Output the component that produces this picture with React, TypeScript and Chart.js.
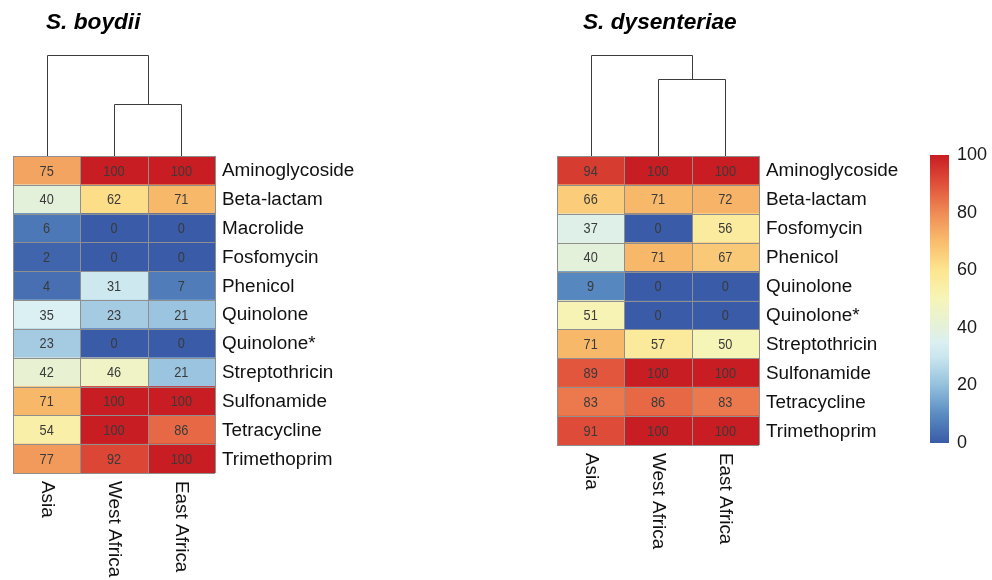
import { useEffect, useRef } from "react";
import { Chart, registerables } from "chart.js";

Chart.register(...registerables);

// ---------- data ----------
const regions = ["Asia", "West Africa", "East Africa"];

const boydiiClasses = [
  "Aminoglycoside", "Beta-lactam", "Macrolide", "Fosfomycin", "Phenicol", "Quinolone",
  "Quinolone*", "Streptothricin", "Sulfonamide", "Tetracycline", "Trimethoprim",
];
const boydiiAsia = [75, 40, 6, 2, 4, 35, 23, 42, 71, 54, 77];
const boydiiWestAfrica = [100, 62, 0, 0, 31, 23, 0, 46, 100, 100, 92];
const boydiiEastAfrica = [100, 71, 0, 0, 7, 21, 0, 21, 100, 86, 100];
// dendrogram merge heights (relative): [root, West+East]
const boydiiMerges = [1, 0.515];

const dysClasses = [
  "Aminoglycoside", "Beta-lactam", "Fosfomycin", "Phenicol", "Quinolone", "Quinolone*",
  "Streptothricin", "Sulfonamide", "Tetracycline", "Trimethoprim",
];
const dysAsia = [94, 66, 37, 40, 9, 51, 71, 89, 83, 91];
const dysWestAfrica = [100, 71, 0, 71, 0, 0, 57, 100, 86, 100];
const dysEastAfrica = [100, 72, 56, 67, 0, 0, 50, 100, 83, 100];
const dysMerges = [1, 0.762];

const legendTicks = [0, 20, 40, 60, 80, 100];

// ---------- styles ----------
const FONT = '"Liberation Sans", Arial, Helvetica, sans-serif';
const colorStops: [number, string][] = [
  [0, "#3A5BA7"], [10, "#5A8CC2"], [20, "#94C0DD"], [30, "#CBE6EF"], [35, "#DAF0F2"],
  [40, "#E4F1DA"], [50, "#F6F5B8"], [60, "#FDE58F"], [70, "#F9BD6C"], [80, "#EF8B55"],
  [90, "#E0503A"], [100, "#C81D22"],
];
const DENDRO_H = 101;

function hexToRgb(h: string) {
  return [parseInt(h.slice(1, 3), 16), parseInt(h.slice(3, 5), 16), parseInt(h.slice(5, 7), 16)];
}
function colorFor(v: number) {
  for (let i = 0; i < colorStops.length - 1; i++) {
    const [v0, c0] = colorStops[i];
    const [v1, c1] = colorStops[i + 1];
    if (v <= v1) {
      const t = (v - v0) / (v1 - v0);
      const a = hexToRgb(c0), b = hexToRgb(c1);
      const m = a.map((x, k) => Math.round(x + (b[k] - x) * t));
      return `rgb(${m[0]},${m[1]},${m[2]})`;
    }
  }
  return colorStops[colorStops.length - 1][1];
}

function heatmapConfig(title: string, titleOffset: number, classes: string[], cols: number[][], merges: number[], padding: any) {
  const datasets = cols.map((vals, i) => ({
    label: regions[i],
    data: classes.map(() => [i, i + 1]),
    values: vals,
    backgroundColor: vals.map(colorFor),
    borderWidth: 0,
    barPercentage: 1,
    categoryPercentage: 1,
    grouped: false,
  }));

  const plugin = {
    id: "heatmapDecor",
    afterDatasetsDraw(chart: any) {
      const ctx = chart.ctx;
      const xs = chart.scales.x;
      const ys = chart.scales.y;
      const area = chart.chartArea;
      ctx.save();
      // grid
      ctx.strokeStyle = "#8f8f8f";
      ctx.lineWidth = 1;
      ctx.beginPath();
      for (let k = 0; k <= regions.length; k++) {
        const x = Math.round(xs.getPixelForValue(k)) + 0.5;
        ctx.moveTo(x, area.top);
        ctx.lineTo(x, area.bottom);
      }
      for (let k = 0; k <= classes.length; k++) {
        const y = Math.round(ys.getPixelForValue(k - 0.5)) + 0.5;
        ctx.moveTo(area.left, y);
        ctx.lineTo(area.right, y);
      }
      ctx.stroke();
      // numbers
      ctx.fillStyle = "#3a3a3a";
      ctx.font = `15px ${FONT}`;
      ctx.textAlign = "center";
      ctx.textBaseline = "middle";
      chart.data.datasets.forEach((ds: any, i: number) => {
        ds.values.forEach((v: number, j: number) => {
          ctx.save();
          ctx.translate(xs.getPixelForValue(i + 0.5), ys.getPixelForValue(j) + 1);
          ctx.scale(0.85, 1);
          ctx.fillText(String(v), 0, 0);
          ctx.restore();
        });
      });
      ctx.restore();
    },
    afterDraw(chart: any) {
      const ctx = chart.ctx;
      const xs = chart.scales.x;
      const ys = chart.scales.y;
      const area = chart.chartArea;
      ctx.save();
      // row labels
      ctx.fillStyle = "#111";
      ctx.font = `18px ${FONT}`;
      ctx.textAlign = "left";
      ctx.textBaseline = "middle";
      classes.forEach((c, j) => {
        ctx.save();
        ctx.translate(area.right + 7, ys.getPixelForValue(j) + 1);
        ctx.scale(1.05, 1);
        ctx.fillText(c, 0, 0);
        ctx.restore();
      });
      // column labels (rotated clockwise)
      regions.forEach((r, i) => {
        ctx.save();
        ctx.translate(xs.getPixelForValue(i + 0.5), area.bottom + 8);
        ctx.rotate(Math.PI / 2);
        ctx.scale(1.05, 1);
        ctx.textAlign = "left";
        ctx.textBaseline = "middle";
        ctx.fillText(r, 0, 0);
        ctx.restore();
      });
      // dendrogram
      const cx = regions.map((_, i) => Math.round(xs.getPixelForValue(i + 0.5)) + 0.5);
      const hy = (h: number) => Math.round(area.top - h * DENDRO_H) + 0.5;
      const yRoot = hy(merges[0]);
      const ySub = hy(merges[1]);
      const mid = Math.round((cx[1] + cx[2]) / 2) + 0.5;
      ctx.strokeStyle = "#3c3c3c";
      ctx.lineWidth = 1;
      ctx.beginPath();
      ctx.moveTo(cx[1], area.top); ctx.lineTo(cx[1], ySub); ctx.lineTo(cx[2], ySub); ctx.lineTo(cx[2], area.top);
      ctx.moveTo(cx[0], area.top); ctx.lineTo(cx[0], yRoot); ctx.lineTo(mid, yRoot); ctx.lineTo(mid, ySub);
      ctx.stroke();
      // title
      ctx.fillStyle = "#000";
      ctx.font = `italic bold 22px ${FONT}`;
      ctx.textAlign = "left";
      ctx.textBaseline = "alphabetic";
      ctx.save();
      ctx.translate(area.left + titleOffset, 29);
      ctx.scale(1.03, 1);
      ctx.fillText(title, 0, 0);
      ctx.restore();
      ctx.restore();
    },
  };

  return {
    type: "bar",
    data: { labels: classes, datasets },
    options: {
      indexAxis: "y",
      animation: false,
      responsive: false,
      events: [],
      layout: { padding },
      plugins: { legend: { display: false }, tooltip: { enabled: false }, title: { display: false } },
      scales: {
        x: { type: "linear", min: 0, max: regions.length, display: false },
        y: { type: "category", display: false },
      },
    },
    plugins: [plugin],
  } as any;
}

function colorbarConfig() {
  return {
    type: "bar",
    data: {
      labels: [""],
      datasets: [
        {
          data: [[legendTicks[0], legendTicks[legendTicks.length - 1]]],
          backgroundColor: (c: any) => {
            const chart = c.chart;
            if (!chart.chartArea) return "#fff";
            const ys = chart.scales.y;
            const lo = legendTicks[0], hi = legendTicks[legendTicks.length - 1];
            const g = chart.ctx.createLinearGradient(0, ys.getPixelForValue(lo), 0, ys.getPixelForValue(hi));
            colorStops.forEach(([v, col]) => g.addColorStop((v - lo) / (hi - lo), col));
            return g;
          },
          borderWidth: 0,
          barPercentage: 1,
          categoryPercentage: 1,
        },
      ],
    },
    options: {
      animation: false,
      responsive: false,
      events: [],
      layout: { padding: { left: 15, right: 4, top: 155, bottom: 137 } },
      plugins: { legend: { display: false }, tooltip: { enabled: false } },
      scales: {
        x: { display: false },
        y: {
          position: "right",
          min: legendTicks[0],
          max: legendTicks[legendTicks.length - 1],
          afterBuildTicks: (s: any) => { s.ticks = legendTicks.map((v) => ({ value: v })); },
          afterFit: (s: any) => { s.width = 39; },
          ticks: { padding: 8, color: "#1a1a1a", font: { size: 18, family: FONT } },
          grid: { display: false, drawTicks: false },
          border: { display: false },
        },
      },
    },
  } as any;
}

export default function App() {
  const leftRef = useRef<HTMLCanvasElement>(null);
  const rightRef = useRef<HTMLCanvasElement>(null);
  const barRef = useRef<HTMLCanvasElement>(null);

  useEffect(() => {
    const charts = [
      new Chart(leftRef.current!, heatmapConfig("S. boydii", 33, boydiiClasses,
        [boydiiAsia, boydiiWestAfrica, boydiiEastAfrica], boydiiMerges,
        { left: 13, top: 156, right: 185, bottom: 107 })),
      new Chart(rightRef.current!, heatmapConfig("S. dysenteriae", 26, dysClasses,
        [dysAsia, dysWestAfrica, dysEastAfrica], dysMerges,
        { left: 117, top: 156, right: 151, bottom: 135 })),
      new Chart(barRef.current!, colorbarConfig()),
    ];
    return () => charts.forEach((c) => c.destroy());
  }, []);

  return (
    <div style={{ position: "fixed", left: 0, top: 0, width: 992, height: 580, background: "#fff" }}>
      <canvas ref={leftRef} width={400} height={580} style={{ position: "absolute", left: 0, top: 0, width: 400, height: 580 }} />
      <canvas ref={rightRef} width={470} height={580} style={{ position: "absolute", left: 440, top: 0, width: 470, height: 580 }} />
      <canvas ref={barRef} width={77} height={580} style={{ position: "absolute", left: 915, top: 0, width: 77, height: 580 }} />
    </div>
  );
}
